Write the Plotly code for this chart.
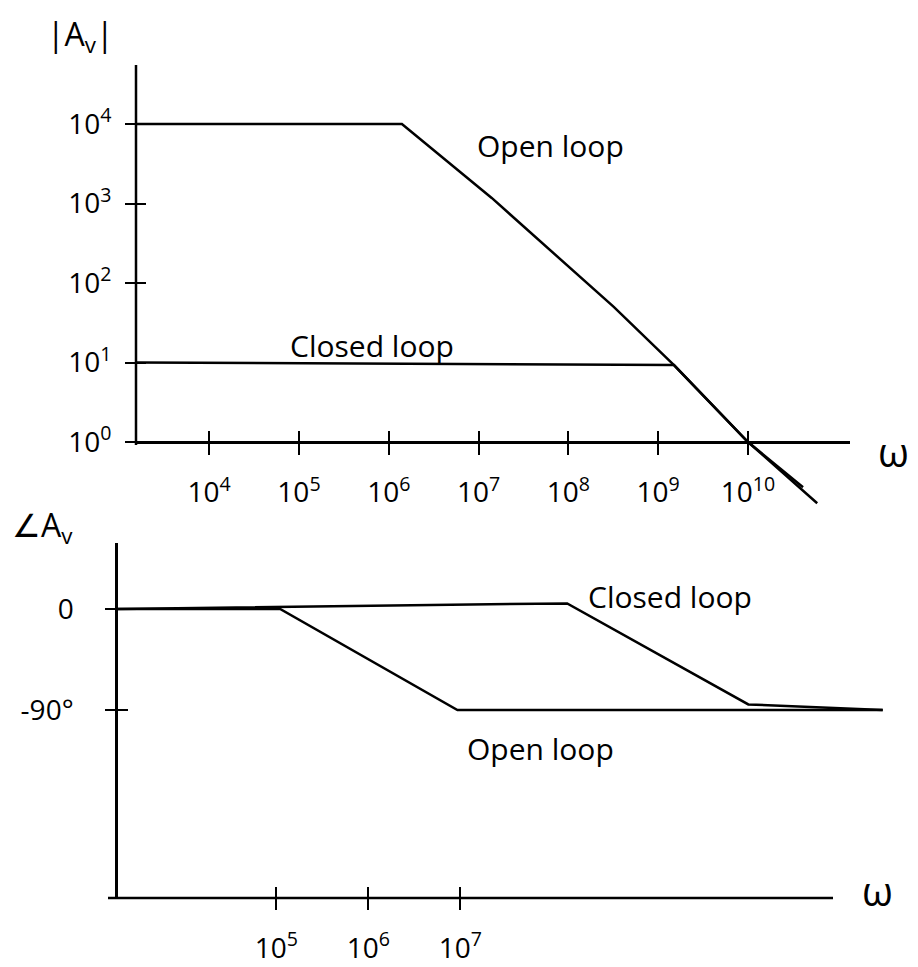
import plotly.graph_objects as go

# ---------------- data ----------------
# Magnitude plot
mag_open_freq = [1.55e3, 1.4e6, 1.4e7, 3.2e8, 1.5e9, 1.0e10, 5.9e10]
mag_open_val = [1e4, 1e4, 1175, 50, 9.3, 1.0, 0.17]
mag_closed_freq = [1.55e3, 1.5e9, 1.0e10, 4.1e10]
mag_closed_val = [10, 9.3, 1.0, 0.27]

mag_xtick_vals = [1e4, 1e5, 1e6, 1e7, 1e8, 1e9, 1e10]
mag_xtick_text = ["10<sup>4</sup>", "10<sup>5</sup>", "10<sup>6</sup>", "10<sup>7</sup>",
                  "10<sup>8</sup>", "10<sup>9</sup>", "10<sup>10</sup>"]
mag_ytick_vals = [1e0, 1e1, 1e2, 1e3, 1e4]
mag_ytick_text = ["10<sup>0</sup>", "10<sup>1</sup>", "10<sup>2</sup>", "10<sup>3</sup>", "10<sup>4</sup>"]

# Phase plot
ph_open_freq = [1.9e3, 1.1e5, 9.3e6, 3.9e11]
ph_open_val = [0, 0, -90, -90]
ph_closed_freq = [1.9e3, 1.45e8, 1.35e10, 3.9e11]
ph_closed_val = [0, 5, -85, -90]

ph_xtick_vals = [1e5, 1e6, 1e7]
ph_xtick_text = ["10<sup>5</sup>", "10<sup>6</sup>", "10<sup>7</sup>"]
ph_ytick_vals = [0, -90]
ph_ytick_text = ["0", "-90°"]

# ---------------- layout helpers ----------------
W, H = 918, 967
FONT = "Open Sans"


def px(x):
    return x / W


def py(y):
    return 1 - y / H


top_xdom = [px(136), px(850)]
top_ydom = [py(510), py(65)]
top_xrange = [3.185, 11.136]
top_yrange = [-0.855, 4.742]

bot_xdom = [px(118), px(885)]
bot_ydom = [py(898), py(543)]
bot_xrange = [3.279, 11.616]
bot_yrange = [-257.5, 58.8]

line_style = dict(color="black", width=2.5)

fig = go.Figure()
fig.add_trace(go.Scatter(x=mag_open_freq, y=mag_open_val, mode="lines", line=line_style,
                         xaxis="x", yaxis="y", name="Open loop"))
fig.add_trace(go.Scatter(x=mag_closed_freq, y=mag_closed_val, mode="lines", line=line_style,
                         xaxis="x", yaxis="y", name="Closed loop"))
fig.add_trace(go.Scatter(x=ph_open_freq, y=ph_open_val, mode="lines", line=line_style,
                         xaxis="x2", yaxis="y2", name="Open loop"))
fig.add_trace(go.Scatter(x=ph_closed_freq, y=ph_closed_val, mode="lines", line=line_style,
                         xaxis="x2", yaxis="y2", name="Closed loop"))
# empty traces so the overlay tick axes (inner halves of the crossing ticks) get drawn
for xa, ya in [("x3", "y"), ("x", "y3"), ("x4", "y2"), ("x2", "y4")]:
    fig.add_trace(go.Scatter(x=[], y=[], mode="lines", xaxis=xa, yaxis=ya,
                             hoverinfo="skip", showlegend=False))

tick_font = dict(family=FONT, size=28, color="black")
tick_common = dict(showgrid=False, zeroline=False, tickwidth=2, tickcolor="black")

# position of the 10^0 line inside the top plot (paper coords)
frac0 = (0 - top_yrange[0]) / (top_yrange[1] - top_yrange[0])
xaxis_pos = top_ydom[0] + frac0 * (top_ydom[1] - top_ydom[0])

fig.update_layout(
    width=W, height=H,
    margin=dict(l=0, r=0, t=0, b=0),
    paper_bgcolor="white", plot_bgcolor="white",
    showlegend=False,
    xaxis=dict(domain=top_xdom, type="log", range=top_xrange, anchor="free", position=xaxis_pos,
               showline=True, linecolor="black", linewidth=2.5,
               ticks="outside", ticklen=11,
               tickvals=mag_xtick_vals, ticktext=mag_xtick_text, tickfont=tick_font,
               ticklabelstandoff=14, **tick_common),
    yaxis=dict(domain=top_ydom, type="log", range=top_yrange, anchor="x",
               showline=False,
               ticks="outside", ticklen=10,
               tickvals=mag_ytick_vals, ticktext=mag_ytick_text, tickfont=tick_font,
               ticklabelstandoff=8, **tick_common),
    xaxis2=dict(domain=bot_xdom, type="log", range=bot_xrange, anchor="y2",
                showline=False,
                ticks="outside", ticklen=11,
                tickvals=ph_xtick_vals, ticktext=ph_xtick_text, tickfont=tick_font,
                ticklabelstandoff=14, **tick_common),
    yaxis2=dict(domain=bot_ydom, range=bot_yrange, anchor="x2",
                showline=True, linecolor="black", linewidth=2.5,
                ticks="outside", ticklen=10,
                tickvals=ph_ytick_vals, ticktext=ph_ytick_text, tickfont=tick_font,
                ticklabelstandoff=26, **tick_common),
    # overlay axes that draw the inner half of each tick, so ticks cross the axis like the sketch
    xaxis3=dict(domain=top_xdom, type="log", range=top_xrange, anchor="free", position=xaxis_pos,
                overlaying="x", showline=False, ticks="inside", ticklen=11,
                tickvals=mag_xtick_vals, showticklabels=False, **tick_common),
    yaxis3=dict(domain=top_ydom, type="log", range=top_yrange, anchor="x", side="left",
                overlaying="y", showline=False, ticks="inside", ticklen=10,
                tickvals=mag_ytick_vals, showticklabels=False, **tick_common),
    xaxis4=dict(domain=bot_xdom, type="log", range=bot_xrange, anchor="y2",
                overlaying="x2", showline=False, ticks="inside", ticklen=11,
                tickvals=ph_xtick_vals, showticklabels=False, **tick_common),
    yaxis4=dict(domain=bot_ydom, range=bot_yrange, anchor="x2", side="left",
                overlaying="y2", showline=False, ticks="inside", ticklen=10,
                tickvals=ph_ytick_vals, showticklabels=False, **tick_common),
)

# axis lines drawn only over the span used in the sketch
fig.add_shape(type="line", xref="x domain", yref="y domain",
              x0=0, x1=0, y0=frac0 - 3 / 445, y1=1,
              line=dict(color="black", width=2.5))
fig.add_shape(type="line", xref="x2 domain", yref="y2 domain",
              x0=-10 / 767, x1=(833 - 118) / 767, y0=0, y1=0,
              line=dict(color="black", width=2.5))


def add_text(text, x, y, size=30):
    fig.add_annotation(text=text, x=px(x), y=py(y), xref="paper", yref="paper",
                       showarrow=False, xanchor="center", yanchor="middle",
                       font=dict(family=FONT, size=size, color="black"))


add_text("|A<sub>v</sub>|", 80, 36, 32)
add_text("∠A<sub>v</sub>", 42, 527, 32)
add_text("ω", 893, 452, 40)
add_text("ω", 877, 890, 40)
add_text("Open loop", 550, 146, 30)
add_text("Closed loop", 372, 345, 30)
add_text("Closed loop", 670, 596, 30)
add_text("Open loop", 540, 748, 30)

fig.write_html("out.html")
